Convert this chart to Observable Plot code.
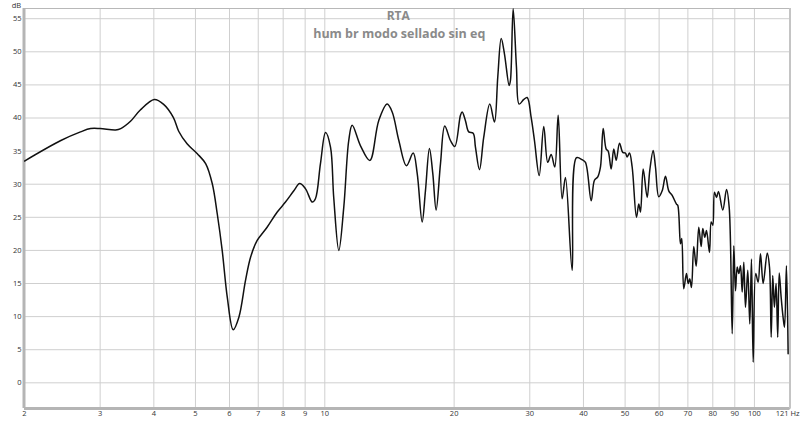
<!DOCTYPE html>
<html><head><meta charset="utf-8">
<script src="https://cdn.jsdelivr.net/npm/d3@7"></script>
<script src="https://cdn.jsdelivr.net/npm/@observablehq/plot@0.6"></script>
<style>body{margin:0;background:#fff}</style>
</head><body><div id="chart"></div>
<script>
const titleText = "RTA";
const subtitleText = "hum br modo sellado sin eq";
const yUnit = "dB";
const xTicks = [2,3,4,5,6,7,8,9,10,20,30,40,50,60,70,80,90,100,121];
const xTickLabels = ["2","3","4","5","6","7","8","9","10","20","30","40","50","60","70","80","90","100","121 Hz"];
const yTicks = [0,5,10,15,20,25,30,35,40,45,50,55];
const freqs = [
 2.00,2.43,2.70,2.85,3.00,3.26,3.35,3.53,3.72,4.01,4.21,4.44,4.57,4.78,5.05,5.28,5.47,5.62,5.77,5.93,
 6.12,6.31,6.54,6.72,6.96,7.34,7.75,8.10,8.47,8.74,9.02,9.35,9.51,9.77,10.04,10.31,10.49,10.78,11.07,11.37,
 11.58,12.11,12.73,13.35,13.97,14.35,14.87,15.49,16.06,16.41,16.85,17.15,17.52,17.84,18.16,18.59,19.02,19.61,20.07,20.69,
 20.88,21.25,21.63,22.15,22.42,22.91,23.44,24.21,24.83,25.27,25.74,26.19,26.86,27.05,27.44,27.93,28.34,29.05,29.58,30.22,
 30.76,31.55,32.33,33.03,33.64,34.30,34.93,35.68,36.32,37.65,38.53,39.72,40.43,41.69,42.43,43.19,43.82,44.46,45.18,45.66,
 46.40,47.05,47.67,48.52,49.38,50.10,50.56,51.19,51.93,53.14,53.80,54.30,55.09,56.28,57.07,58.12,58.84,59.89,60.99,62.08,
 63.18,64.35,65.85,66.31,67.27,67.74,68.47,69.47,70.11,70.71,71.36,72.24,73.18,74.21,75.17,75.82,76.64,77.34,78.59,79.31,
 80.00,80.72,81.60,82.48,84.40,86.10,87.35,88.77,89.53,90.35,91.17,91.96,92.80,93.65,94.46,95.32,96.50,97.54,98.43,99.34,
 100.7,102.0,103.3,104.8,107.1,108.4,109.4,110.3,111.3,112.3,113.3,114.2,115.4,116.6,117.5,118.7,119.8
];
const levels = [
 33.5,36.6,37.9,38.4,38.4,38.2,38.4,39.5,41.2,42.8,42.1,40.1,38.0,36.1,34.6,33.1,30.1,25.5,20.0,12.9,
 8.0,9.9,15.5,19.0,21.5,23.5,25.8,27.3,29.0,30.1,29.3,27.3,27.8,33.1,37.8,35.6,28.0,20.0,26.5,36.6,
 38.9,35.8,33.6,39.6,42.1,40.9,36.6,32.8,34.7,31.6,24.3,29.0,35.4,31.6,26.1,33.1,38.8,36.6,35.7,40.4,
 40.9,39.6,37.9,37.7,35.6,32.2,37.1,42.1,39.4,46.2,52.0,49.7,44.9,45.7,56.5,47.7,42.1,42.8,43.1,40.1,
 36.6,31.3,38.7,33.3,34.5,32.6,40.4,27.8,31.0,17.0,34.0,33.7,33.3,27.5,30.6,31.1,32.6,38.4,35.3,35.0,
 32.3,35.3,33.6,36.2,34.8,34.7,34.1,34.7,32.6,25.0,27.0,25.8,32.3,28.0,32.1,35.1,32.6,28.1,29.0,31.2,
 29.0,28.3,27.0,26.8,21.0,21.8,14.2,16.5,15.0,15.7,14.4,20.6,17.6,23.5,20.6,23.3,22.0,23.0,19.7,24.3,
 23.8,28.8,28.0,28.9,26.1,29.2,26.5,7.4,20.7,13.9,17.5,16.5,17.7,13.7,18.2,11.4,17.0,8.9,18.7,3.1,
 16.5,15.2,19.5,15.0,19.6,17.5,6.9,16.2,11.4,15.0,6.9,16.6,12.9,9.9,8.4,17.7,4.4
];
const data = freqs.map((f, i) => ({f, db: levels[i]}));
const xLabelData = xTicks.map((v, i) => ({v, label: xTickLabels[i], last: i === xTicks.length - 1}));
const yMin = -3.88, yMax = 56.54;

const chart = Plot.plot({
  width: 800, height: 421,
  marginLeft: 24, marginRight: 10.5, marginTop: 8, marginBottom: 13,
  style: {fontFamily: "'Open Sans', 'DejaVu Sans', sans-serif", fontSize: "7.5px", color: "#333", background: "#fff"},
  x: {type: "log", domain: [2, 121], label: null, axis: null},
  y: {domain: [yMin, yMax], label: null, axis: null},
  marks: [
    Plot.ruleX(xTicks, {stroke: "#cfcfcf", strokeWidth: 1}),
    Plot.ruleY(yTicks, {stroke: "#cfcfcf", strokeWidth: 1}),
    Plot.text(xLabelData.filter(d => !d.last), {x: "v", text: "label", frameAnchor: "bottom", dy: 7, fill: "#333", fontSize: 7.5}),
    Plot.text(xLabelData.filter(d => d.last), {x: "v", text: "label", frameAnchor: "bottom", dy: 7, dx: 9.5, textAnchor: "end", fill: "#333", fontSize: 7.5}),
    Plot.text(yTicks, {y: d => d, text: d => String(d), frameAnchor: "left", dx: -3, textAnchor: "end", fill: "#333", fontSize: 7.5}),
    Plot.frame({stroke: "#b8b8b8"}),
    Plot.ruleX([2], {stroke: "#b5b5b5", strokeWidth: 3, dx: -0.5}),
    Plot.ruleY([yMin], {stroke: "#b5b5b5", strokeWidth: 3}),
    Plot.ruleX([121], {stroke: "#c4c4c4", strokeWidth: 2}),
    Plot.line(data, {x: "f", y: "db", stroke: "#111", strokeWidth: 1.5, curve: "catmull-rom", clip: true}),
    Plot.text([titleText], {frameAnchor: "top", dx: -9, dy: 11.5, lineAnchor: "bottom", fill: "#8a8a8a", fontWeight: "bold", fontSize: 12}),
    Plot.text([subtitleText], {frameAnchor: "top", dx: -8, dy: 29, lineAnchor: "bottom", fill: "#8a8a8a", fontWeight: "bold", fontSize: 12.5}),
    Plot.text([yUnit], {frameAnchor: "top-left", dx: -8, dy: -1, lineAnchor: "bottom", textAnchor: "middle", fill: "#333", fontSize: 7.5})
  ]
});
document.getElementById("chart").appendChild(chart);
</script>
</body></html>
